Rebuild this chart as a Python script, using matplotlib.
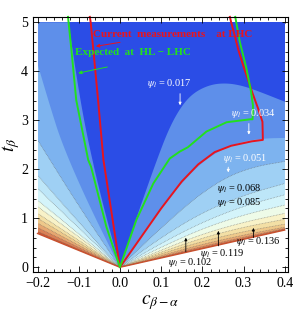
import numpy as np
import matplotlib
matplotlib.use("Agg")
import matplotlib.pyplot as plt
from matplotlib.patches import Rectangle

# contour levels of psi_l and the band colours above each level
levels = [0.017, 0.034, 0.051, 0.068, 0.085, 0.102, 0.119, 0.136, 0.153, 0.170, 0.187, 0.204]
base_color = "#2b4de6"
band_colors = ["#5e8fea", "#7db3ef", "#9fd0f4", "#bde6f8", "#d4f4fa", "#eefbe8",
               "#f8f2c8", "#f3dfa5", "#eec88a", "#e6a670", "#da8055", "#c85a3a"]

# contour lines, (c, t) points
# left branch: from outer end down to the origin
left_curves = [
    [(-0.125, 5.0), (-0.1, 3.6), (-0.078, 2.6), (-0.045, 1.4), (0, 0)],
    [(-0.2, 4.15), (-0.17, 3.3), (-0.141, 2.53), (-0.08, 1.35), (0, 0)],
    [(-0.2, 2.6), (-0.1, 1.25), (0, 0)],
    [(-0.2, 1.88), (-0.1, 0.92), (0, 0)],
    [(-0.2, 1.61), (0, 0)],
    [(-0.2, 1.37), (0, 0)],
    [(-0.2, 1.24), (0, 0)],
    [(-0.2, 1.10), (0, 0)],
    [(-0.2, 1.00), (0, 0)],
    [(-0.2, 0.90), (0, 0)],
    [(-0.2, 0.81), (0, 0)],
    [(-0.2, 0.73), (0, 0)],
]
# right branch: from the origin out to the right edge
right_curves = [
    [(0, 0), (0.05, 1.25), (0.09, 2.2), (0.12, 2.85), (0.15, 3.3), (0.18, 3.57), (0.22, 3.73),
     (0.26, 3.76), (0.3, 3.7), (0.34, 3.58), (0.4, 3.38)],
    [(0, 0), (0.05, 0.62), (0.1, 1.2), (0.15, 1.72), (0.2, 2.15), (0.25, 2.42),
     (0.3, 2.57), (0.35, 2.63), (0.4, 2.64)],
    [(0, 0), (0.05, 0.41), (0.1, 0.8), (0.15, 1.18), (0.2, 1.52), (0.263, 1.86),
     (0.33, 2.06), (0.4, 2.16)],
    [(0, 0), (0.1, 0.61), (0.2, 1.12), (0.3, 1.47), (0.4, 1.71)],
    [(0, 0), (0.1, 0.49), (0.2, 0.92), (0.3, 1.25), (0.4, 1.48)],
    [(0, 0), (0.1, 0.41), (0.2, 0.79), (0.3, 1.07), (0.4, 1.27)],
    [(0, 0), (0.1, 0.35), (0.2, 0.68), (0.3, 0.92), (0.4, 1.10)],
    [(0, 0), (0.1, 0.31), (0.2, 0.60), (0.3, 0.82), (0.4, 0.98)],
    [(0, 0), (0.1, 0.275), (0.2, 0.53), (0.3, 0.73), (0.4, 0.88)],
    [(0, 0), (0.1, 0.24), (0.2, 0.47), (0.3, 0.66), (0.4, 0.82)],
    [(0, 0), (0.1, 0.215), (0.2, 0.425), (0.3, 0.615), (0.4, 0.79)],
    [(0, 0), (0.1, 0.2), (0.2, 0.395), (0.3, 0.585), (0.4, 0.775)],
]
# lower edge of the allowed region
edge_c = [-0.2, 0.0, 0.4]
edge_t = [0.69, 0.0, 0.76]

# LHC bounds
red_c = [-0.073, -0.071, -0.063, -0.053, -0.040, -0.025, 0.0, 0.05, 0.1, 0.15, 0.19,
         0.23, 0.27, 0.32, 0.347, 0.346, 0.335, 0.322, 0.31, 0.298, 0.287, 0.278, 0.27, 0.267]
red_t = [5.11, 5.0, 4.3, 3.41, 2.19, 1.37, 0.0, 0.6, 1.2, 1.75, 2.1,
         2.35, 2.48, 2.57, 2.6, 2.97, 3.25, 3.55, 3.85, 4.15, 4.45, 4.75, 5.0, 5.11]
green_c = [-0.126, -0.117, -0.106, -0.077, -0.07, -0.033, 0.0, 0.04, 0.081, 0.121, 0.145,
           0.165, 0.21, 0.259, 0.316, 0.322, 0.323, 0.318, 0.307, 0.291, 0.28]
green_t = [5.11, 4.37, 3.41, 2.19, 2.05, 0.83, 0.0, 0.97, 1.71, 2.22, 2.36,
           2.45, 2.77, 2.96, 3.02, 3.02, 3.3, 3.6, 4.06, 4.6, 5.11]


def smooth(pts, n=3):
    # Chaikin corner cutting, end points kept
    p = np.array(pts, dtype=float)
    for _ in range(n):
        if len(p) < 3:
            break
        q = [p[0]]
        for a, b in zip(p[:-1], p[1:]):
            q.append(0.75 * a + 0.25 * b)
            q.append(0.25 * a + 0.75 * b)
        q.append(p[-1])
        p = np.array(q)
    return list(map(tuple, p))


plt.rcParams["font.family"] = ["Liberation Serif", "DejaVu Serif"]
plt.rcParams["mathtext.fontset"] = "stix"

fig = plt.figure(figsize=(3.07, 3.14), dpi=100)
ax = fig.add_axes([0.1075, 0.1338, 0.8306, 0.8121])
ax.set_xlim(-0.211, 0.408)
ax.set_ylim(-0.096, 5.108)

domain = Rectangle((-0.2, 0), 0.6, 5, transform=ax.transData)

ax.fill([-0.2, 0.4, 0.4, -0.2], [0, 0, 5, 5], color=base_color, lw=0)
for i in range(len(levels)):
    pts = smooth(left_curves[i]) + smooth(right_curves[i])[1:]
    cs = [p[0] for p in pts]
    ts = [p[1] for p in pts]
    poly_c = cs + [0.45, 0.45, -0.25, -0.25]
    poly_t = ts + [ts[-1], -1, -1, ts[0]]
    patch = ax.fill(poly_c, poly_t, color=band_colors[i], lw=0)[0]
    patch.set_clip_path(domain)
    if i >= 2:
        ln, = ax.plot(cs, ts, color="#606060", lw=0.5, ls=(0, (1, 1.2)), alpha=0.7)
        ln.set_clip_path(domain)

ax.fill(edge_c + [0.45, 0.45, -0.25, -0.25],
        edge_t + [edge_t[-1], -1, -1, edge_t[0]], color="white", lw=0)
ax.plot(edge_c, edge_t, color="#c8502d", lw=1.0)

ax.plot(red_c, red_t, color="#e8141e", lw=1.4, clip_on=False)
ax.plot(green_c, green_t, color="#22e01e", lw=1.4, clip_on=False)

# labels
ax.text(-0.066, 4.75, "Current  measurements    at LHC", color="#e8141e",
        fontsize=8, fontweight="bold", va="center")
ax.annotate("", xy=(-0.065, 4.5), xytext=(0.007, 4.6),
            arrowprops=dict(arrowstyle="-|>", color="#e8141e", lw=0.7, mutation_scale=5))
ax.text(-0.108, 4.38, "Expected  at  HL − LHC", color="#22e01e",
        fontsize=8, fontweight="bold", va="center")
ax.annotate("", xy=(-0.108, 3.95), xytext=(-0.024, 4.1),
            arrowprops=dict(arrowstyle="-|>", color="#22e01e", lw=0.7, mutation_scale=5))

white_labels = [(0.066, 3.75, "0.017", 0.146, 3.6, 3.25),
                (0.269, 3.13, "0.034", 0.313, 2.99, 2.65),
                (0.25, 2.22, "0.051", 0.263, 2.1, 1.88)]
for x, y, s, ax_x, y0, y1 in white_labels:
    ax.text(x, y, r"$\psi_l$ = " + s, color="white", fontsize=7.5, va="center")
    ax.annotate("", xy=(ax_x, y1), xytext=(ax_x, y0),
                arrowprops=dict(arrowstyle="-|>", color="white", lw=0.6, mutation_scale=4))

ax.text(0.236, 1.61, r"$\psi_l$ = 0.068", color="black", fontsize=7.5, va="center")
ax.text(0.236, 1.33, r"$\psi_l$ = 0.085", color="black", fontsize=7.5, va="center")
black_labels = [(0.117, 0.09, "0.102", 0.16, 0.26, 0.66),
                (0.195, 0.29, "0.119", 0.239, 0.38, 0.8),
                (0.282, 0.52, "0.136", 0.324, 0.55, 0.86)]
for x, y, s, ax_x, y0, y1 in black_labels:
    ax.text(x, y, r"$\psi_l$ = " + s, color="black", fontsize=7.5, va="center")
    ax.annotate("", xy=(ax_x, y1), xytext=(ax_x, y0),
                arrowprops=dict(arrowstyle="-|>", color="black", lw=0.6, mutation_scale=4))

ax.set_xticks([-0.2, -0.1, 0.0, 0.1, 0.2, 0.3, 0.4])
ax.set_xticklabels(["−0.2", "−0.1", "0.0", "0.1", "0.2", "0.3", "0.4"])
ax.set_yticks([0, 1, 2, 3, 4, 5])
ax.set_xticks([x / 100 for x in range(-20, 41, 2)], minor=True)
ax.set_yticks([y / 5 for y in range(0, 26)], minor=True)
ax.tick_params(which="both", direction="in", top=True, right=True, labelsize=10, width=0.6)
ax.tick_params(which="major", length=4)
ax.tick_params(which="minor", length=2)
for s in ax.spines.values():
    s.set_linewidth(0.8)

ax.set_xlabel(r"$c_{\beta-\alpha}$", fontsize=14, labelpad=2)
ax.set_ylabel(r"$t_\beta$", fontsize=14)
ax.yaxis.set_label_coords(-0.045, 0.5)

fig.savefig("out.png", dpi=100)
